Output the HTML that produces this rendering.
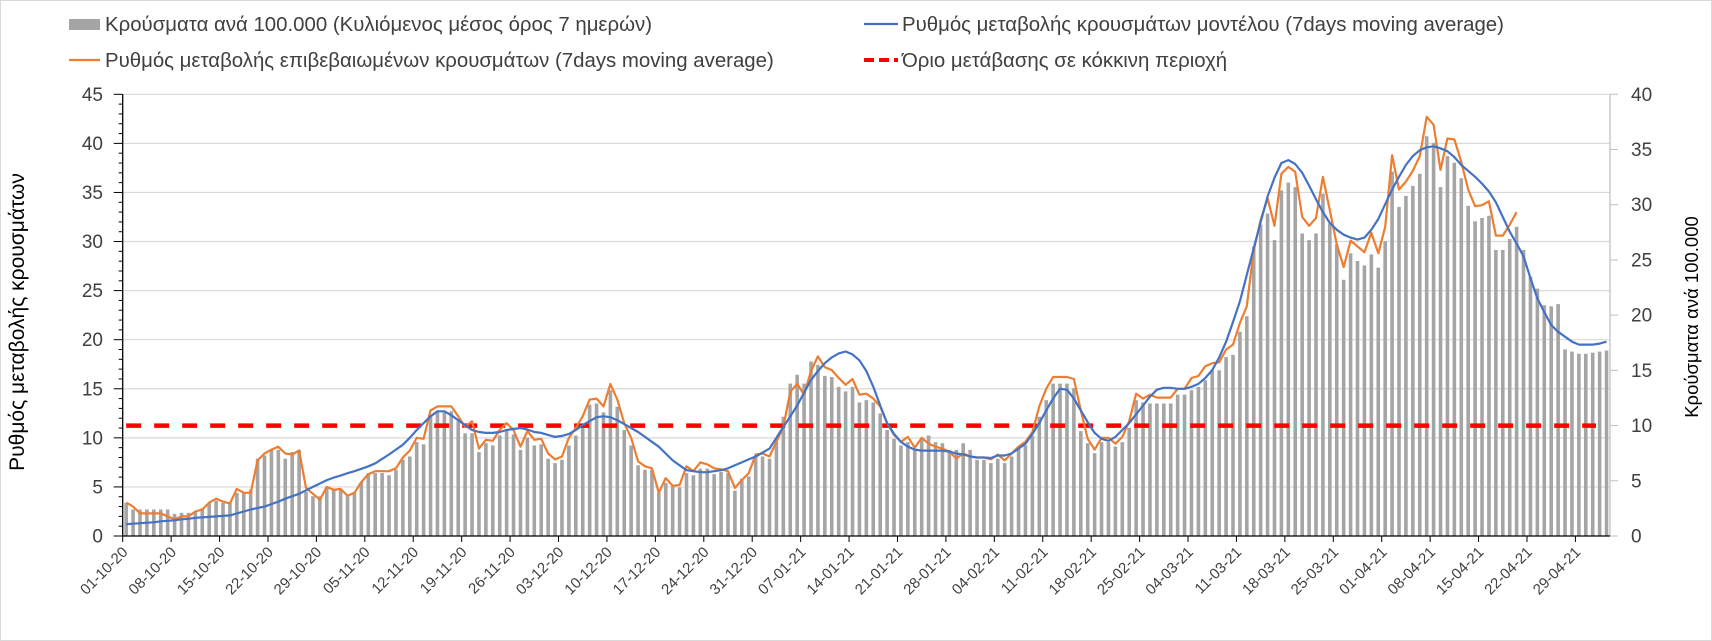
<!DOCTYPE html>
<html><head><meta charset="utf-8"><style>
html,body{margin:0;padding:0;background:#fff;}
svg{display:block;font-family:"Liberation Sans",sans-serif;}
</style></head><body>
<svg id="chart" width="1712" height="641" viewBox="0 0 1712 641">
<rect x="0.5" y="0.5" width="1711" height="640" fill="#fff" stroke="#d9d9d9"/>
<g id="legend" font-size="20.4" fill="#404040">
 <g><rect x="69" y="19" width="31" height="11" fill="#a5a5a5"/><text x="105" y="31">Κρούσματα ανά 100.000 (Κυλιόμενος μέσος όρος 7 ημερών)</text></g>
 <g><line x1="864" y1="24" x2="898" y2="24" stroke="#4472c4" stroke-width="2.2"/><text x="902" y="31">Ρυθμός μεταβολής κρουσμάτων μοντέλου (7days moving average)</text></g>
 <g><line x1="69" y1="60" x2="100" y2="60" stroke="#ed7d31" stroke-width="2.2"/><text x="105" y="67">Ρυθμός μεταβολής επιβεβαιωμένων κρουσμάτων (7days moving average)</text></g>
 <g><line x1="864" y1="60" x2="898" y2="60" stroke="#ff0000" stroke-width="4" stroke-dasharray="10 5"/><text x="902" y="67">Όριο μετάβασης σε κόκκινη περιοχή</text></g>
</g>
<text x="0" y="0" font-size="21" fill="#000" text-anchor="middle" transform="translate(24,322) rotate(-90)">Ρυθμός μεταβολής κρουσμάτων</text>
<text x="0" y="0" font-size="18.5" fill="#000" text-anchor="middle" transform="translate(1698,317) rotate(-90)">Κρούσματα ανά 100.000</text>
<g id="grid"></g><g id="bars"></g><g id="lines"></g><g id="axes"></g>
</svg>
<script>
const startDay = [2020, 10, 1];
const casesPer100k = [3.0,2.4,2.4,2.4,2.4,2.4,2.4,2.0,2.1,2.1,2.2,2.5,3.0,3.2,3.0,3.0,3.9,4.0,4.2,7.0,7.3,7.8,7.8,7.0,7.6,7.8,4.0,3.6,3.6,4.4,4.3,4.2,3.6,3.9,4.9,5.7,5.7,5.7,5.5,6.0,6.9,7.2,8.5,8.3,10.9,11.2,11.2,11.3,10.4,9.3,9.3,7.6,8.4,8.2,9.1,9.6,9.2,7.8,8.9,8.2,
8.3,7.0,6.6,6.9,8.2,9.1,10.1,11.9,12.0,11.2,13.2,11.7,9.6,8.2,6.4,6.0,6.0,3.9,4.8,4.5,4.4,5.7,5.5,6.1,6.1,5.6,5.8,5.7,4.1,5.2,5.4,7.2,7.2,7.0,8.5,10.8,13.8,14.6,13.8,15.8,15.5,14.5,14.4,13.5,13.1,13.5,12.1,12.3,12.1,11.1,9.6,8.8,8.2,8.5,7.9,8.8,9.1,8.5,8.4,7.8,7.8,8.4,7.8,6.9,6.9,6.6,7.0,
6.6,7.2,7.9,8.2,9.1,10.8,12.3,13.8,13.8,13.8,13.4,9.5,8.4,7.5,8.5,8.5,8.1,8.5,9.8,12.3,12.1,12.0,12.0,12.0,12.0,12.8,12.8,13.2,13.5,14.1,15.0,15.0,16.2,16.4,18.5,19.9,26.2,28.2,29.2,26.8,31.3,32.0,31.6,27.4,26.8,27.4,31.0,28.3,26.4,23.2,25.6,24.9,24.5,25.5,24.3,26.7,33.0,29.8,30.8,31.7,32.8,36.2,35.6,31.6,34.4,33.8,32.4,29.9,28.5,28.8,29.0,25.9,25.9,26.9,28.0,25.9,23.5,22.4,20.9,20.8,21.0,16.9,16.7,16.5,16.5,16.6,16.7,16.8];
const modelRate = [1.2,1.25,1.3,1.35,1.4,1.5,1.55,1.6,1.7,1.75,1.85,1.9,1.95,2.0,2.05,2.1,2.3,2.5,2.7,2.85,
3.0,3.25,3.5,3.8,4.05,4.3,4.65,5.0,5.35,5.7,5.95,6.15,6.4,6.6,6.85,7.1,7.4,7.85,8.3,8.8,
9.3,10.0,10.8,11.5,12.2,12.7,12.7,12.3,11.8,11.3,10.8,10.6,10.5,10.5,10.6,10.8,10.9,11.0,10.85,10.6,
10.5,10.3,10.1,10.2,10.4,10.8,11.3,11.7,12.1,12.2,12.1,11.8,11.4,11.0,10.6,
10.1,9.6,9.1,8.4,7.7,7.2,6.7,6.6,6.5,6.5,6.6,6.7,6.9,7.2,7.5,
7.8,8.1,8.5,8.9,10.0,11.1,12.2,13.3,14.6,15.9,16.8,17.6,18.2,18.6,18.8,18.5,17.9,16.8,15.2,13.3,11.5,10.4,9.6,9.1,8.8,8.7,8.7,8.7,8.7,8.6,8.4,8.3,8.1,8.0,8.0,7.95,8.2,
8.2,8.4,8.9,9.4,10.4,11.5,12.8,14.0,15.0,14.9,14.0,12.8,11.6,10.5,9.9,9.7,10.1,10.8,11.5,12.4,13.3,14.2,14.9,15.1,15.1,15.0,15.0,15.2,15.5,16.1,16.9,18.2,19.8,21.8,23.9,26.6,29.3,32.0,34.6,36.5,38.0,38.3,37.9,37.0,35.7,34.3,33.0,31.9,31.2,30.7,30.4,30.2,30.4,31.2,32.3,33.8,35.3,36.6,37.8,38.7,39.3,39.6,39.7,39.5,39.2,38.6,37.8,37.2,36.6,35.9,35.1,34.0,32.5,
31.0,29.8,28.5,26.3,24.2,22.8,21.5,20.8,20.3,19.8,19.5,19.5,19.5,19.6,19.8];
const confirmedRate = [3.4,3.0,2.3,2.3,2.3,2.3,2.0,1.7,2.0,2.0,2.5,2.7,3.4,3.8,3.5,3.3,4.8,4.4,4.4,7.7,8.4,8.8,9.1,8.4,8.3,8.7,4.9,4.3,3.7,5.0,4.7,4.8,4.1,4.4,5.5,6.3,6.6,6.6,6.6,6.9,8.0,8.7,10.0,9.9,12.8,13.2,13.2,13.2,12.2,11.1,11.7,8.9,9.8,9.7,10.8,11.5,10.8,9.1,10.7,9.8,
9.9,8.4,7.8,8.1,10.0,11.0,12.2,13.9,14.0,13.2,15.5,13.9,11.5,10.0,7.6,7.1,6.9,4.4,5.9,5.1,5.2,7.1,6.6,7.5,7.3,6.9,6.8,6.6,4.9,5.7,6.4,8.3,8.4,8.1,9.6,11.1,14.7,15.5,14.4,16.8,18.3,17.2,16.9,16.1,15.4,16.0,14.4,14.5,14.0,13.2,11.5,10.3,9.6,10.1,9.0,10.0,9.4,9.1,8.9,8.6,7.9,8.4,8.1,8.0,8.0,7.8,8.3,
7.7,8.4,9.1,9.6,10.6,13.2,15.0,16.2,16.2,16.2,16.0,12.8,9.9,8.8,10.0,10.0,9.4,10.1,11.7,14.5,14.0,14.4,14.1,14.1,14.1,15.0,15.0,16.1,16.3,17.3,17.6,17.7,19.0,19.5,21.7,23.4,29.1,32.2,34.4,31.6,36.9,37.6,37.1,32.5,31.6,32.4,36.6,33.2,29.7,27.4,30.1,29.5,28.9,30.9,28.8,31.5,38.8,35.3,36.1,37.2,38.7,42.7,41.9,37.3,40.5,40.4,38.1,35.3,33.6,33.7,34.1,30.6,30.6,31.7,33.0];
const thresholdValue = [10];
const leftTicks = [0,5,10,15,20,25,30,35,40,45];
const rightTicks = [0,5,10,15,20,25,30,35,40];
const NS="http://www.w3.org/2000/svg";
const X0=122.7, X1=1610, YB=536, YT=94.3, N=215, DW=(X1-X0)/N;
const LMAX=45, RMAX=40;
function xCat(i){return X0+DW*(i+0.5);}
function xEdge(i){return X0+DW*i;}
function yL(v){return YB-(YB-YT)*v/LMAX;}
function yR(v){return YB-(YB-YT)*v/RMAX;}
function mk(tag,attrs,parent){const e=document.createElementNS(NS,tag);for(const k in attrs)e.setAttribute(k,attrs[k]);parent.appendChild(e);return e;}
const grid=document.getElementById('grid'),bars=document.getElementById('bars'),lines=document.getElementById('lines'),axes=document.getElementById('axes');
leftTicks.forEach(v=>{if(v===0)return;const g=mk('line',{x1:X0,x2:X1,y1:yL(v),y2:yL(v),stroke:'#d9d9d9','stroke-width':1.2},grid);

});
casesPer100k.forEach((v,i)=>{const r=mk('rect',{x:xCat(i)-1.8,y:yR(v),width:3.6,height:YB-yR(v),fill:'#a5a5a5'},bars);

});
const th=mk('line',{x1:xCat(0),x2:1596,y1:yR(thresholdValue[0]),y2:yR(thresholdValue[0]),stroke:'#ff0000','stroke-width':4.5,'stroke-dasharray':'15 13'},lines);


function path(arr){return arr.map((v,i)=>(i?'L':'M')+xCat(i).toFixed(1)+' '+yL(v).toFixed(1)).join(' ');}
const pc=mk('path',{d:path(confirmedRate),fill:'none',stroke:'#ed7d31','stroke-width':2.2,'stroke-linejoin':'round'},lines);


const pm=mk('path',{d:path(modelRate),fill:'none',stroke:'#4472c4','stroke-width':2.2,'stroke-linejoin':'round'},lines);


const la=mk('line',{x1:X0,x2:X0,y1:YT,y2:YB,stroke:'#000','stroke-width':1.3},axes);


for(let v=0;v<=LMAX;v++){const major=v%5===0;mk('line',{x1:X0-(major?9:4),x2:X0,y1:yL(v),y2:yL(v),stroke:'#000','stroke-width':1},axes);}
leftTicks.forEach(v=>{const t=mk('text',{x:103,y:yL(v)+6.5,'font-size':19,'text-anchor':'end',fill:'#404040'},axes);t.textContent=v;

});
const ra=mk('line',{x1:X1,x2:X1,y1:YT,y2:YB,stroke:'#bfbfbf','stroke-width':1.2},axes);


rightTicks.forEach(v=>{mk('line',{x1:X1,x2:X1+8,y1:yR(v),y2:yR(v),stroke:'#bfbfbf','stroke-width':1},axes);
const t=mk('text',{x:1631,y:yR(v)+6.5,'font-size':19,fill:'#404040'},axes);t.textContent=v;

});
const xa=mk('line',{x1:X0,x2:X1,y1:YB,y2:YB,stroke:'#000','stroke-width':1.3},axes);


function fmt(i){const d=new Date(Date.UTC(startDay[0],startDay[1]-1,startDay[2]+i));const p=n=>String(n).padStart(2,'0');return p(d.getUTCDate())+'-'+p(d.getUTCMonth()+1)+'-'+String(d.getUTCFullYear()).slice(2);}
for(let i=0;i<N;i+=7){const x=xEdge(i);mk('line',{x1:x,x2:x,y1:YB,y2:YB+6,stroke:'#000','stroke-width':1},axes);
const t=mk('text',{x:0,y:0,'font-size':15,'text-anchor':'end',fill:'#404040',transform:'translate('+(x+6)+','+(YB+17)+') rotate(-45)'},axes);t.textContent=fmt(i);

}
</script>
</body></html>
